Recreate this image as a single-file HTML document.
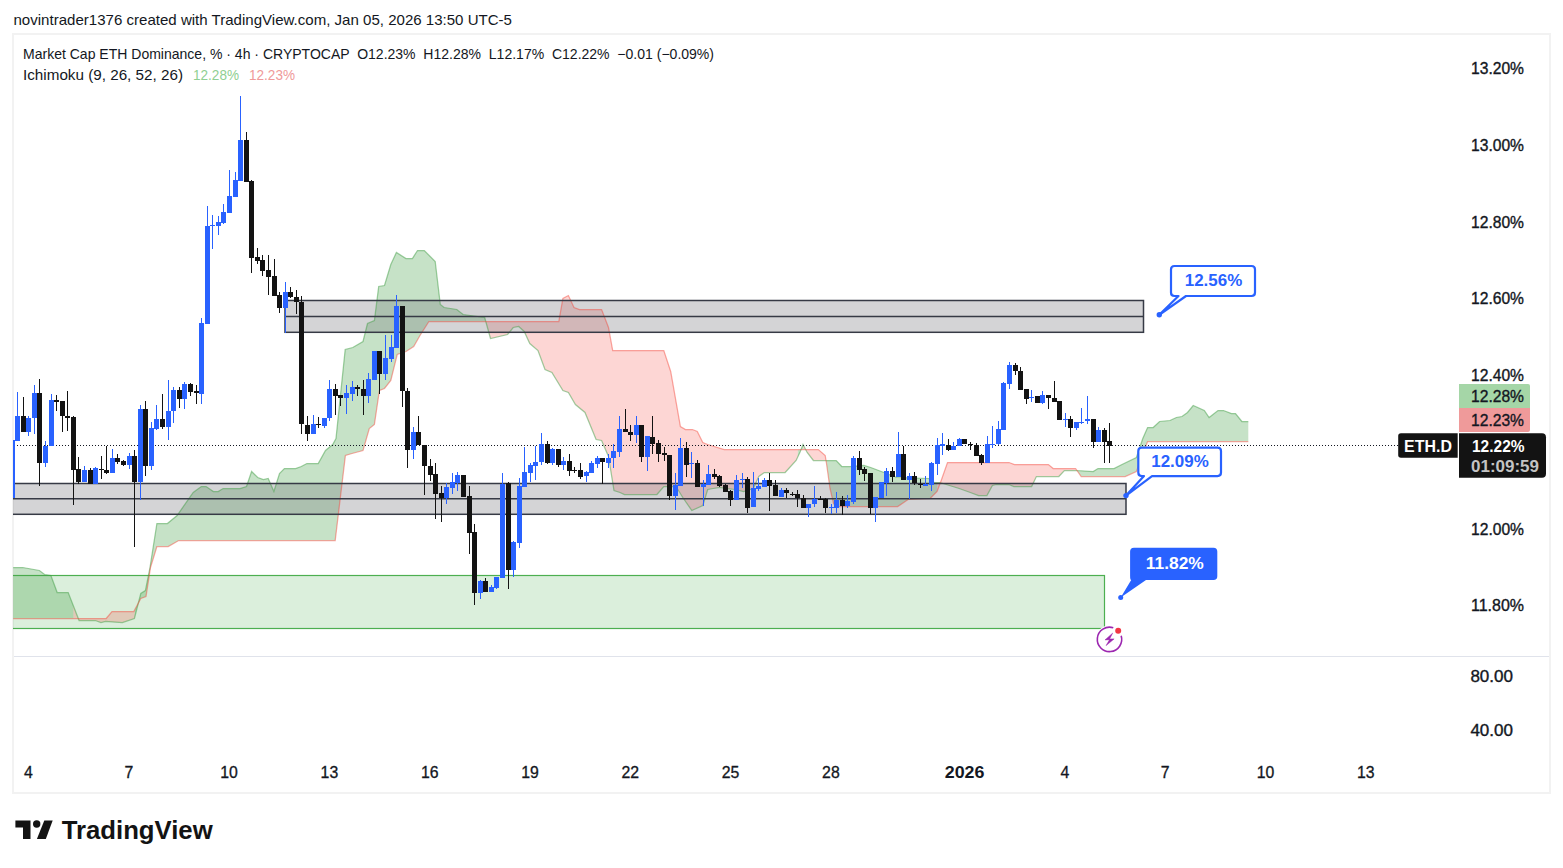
<!DOCTYPE html><html><head><meta charset="utf-8"><style>
html,body{margin:0;padding:0;background:#fff;width:1563px;height:868px;overflow:hidden}
svg{position:absolute;left:0;top:0;display:block}
text{font-family:'Liberation Sans', Arial, sans-serif}
</style></head><body>
<svg width="1563" height="868" viewBox="0 0 1563 868">
<defs><clipPath id="pane"><rect x="13" y="35" width="1535" height="621"/></clipPath></defs>
<rect x="0" y="0" width="1563" height="868" fill="#fff"/>
<text x="13.5" y="25" font-size="15" fill="#131722" textLength="498.5" lengthAdjust="spacingAndGlyphs">novintrader1376 created with TradingView.com, Jan 05, 2026 13:50 UTC-5</text>
<rect x="13" y="34" width="1537" height="759" fill="none" stroke="#f2f2f2" stroke-width="2"/>
<line x1="14" y1="656.5" x2="1549" y2="656.5" stroke="#e0e3eb" stroke-width="1"/>
<g clip-path="url(#pane)">
<!-- green zone rect -->
<rect x="5" y="575.5" width="1099.5" height="53" fill="rgba(76,175,80,0.2)" stroke="#4caf50" stroke-width="1.2"/>
<!-- cloud -->
<g fill="rgba(67,160,71,0.3)"><path d="M13.20,567.50 L22.70,567.50 L39.40,570.50 L44.60,574.50 L50.90,575.50 L57.20,592.50 L68.20,592.50 L73.42,605.91 L73.42,618.50 L68.20,618.50 L57.20,618.50 L50.90,618.50 L44.60,618.50 L39.40,618.50 L22.70,618.50 L13.20,618.50Z"/><path d="M134.71,617.28 L140.80,593.50 L145.40,590.50 L146.00,587.50 L150.00,567.50 L150.50,564.31 L156.90,523.50 L167.40,523.50 L168.20,522.84 L177.10,515.50 L178.70,513.21 L193.20,492.50 L201.30,486.50 L206.10,486.50 L213.40,491.50 L218.20,491.50 L223.10,488.50 L240.00,488.50 L246.50,486.50 L251.60,471.50 L257.70,477.50 L263.40,479.50 L268.20,478.50 L273.90,491.50 L279.50,473.50 L284.40,468.50 L295.60,468.50 L301.30,466.50 L306.90,463.50 L318.20,463.50 L325.50,450.50 L332.70,444.50 L335.20,439.95 L336.00,438.50 L345.20,349.50 L345.40,349.45 L352.00,347.71 L352.80,347.50 L363.00,341.50 L367.50,323.50 L369.30,322.72 L374.40,320.50 L378.70,286.50 L379.40,286.38 L384.50,285.50 L390.80,264.50 L396.40,252.50 L397.20,253.00 L406.00,258.50 L412.40,258.50 L413.70,256.46 L417.50,250.50 L420.00,250.50 L424.30,250.50 L428.90,255.14 L435.20,261.50 L440.30,304.50 L444.10,307.50 L456.80,309.50 L463.10,314.50 L484.70,317.50 L485.50,320.50 L485.75,321.39 L485.75,321.50 L485.50,321.50 L484.70,321.50 L463.10,321.50 L456.80,321.50 L444.10,321.50 L440.30,321.50 L435.20,321.50 L428.90,321.50 L424.30,328.74 L420.00,335.50 L417.50,339.87 L413.70,346.50 L412.40,347.34 L406.00,351.50 L397.20,354.50 L396.40,357.75 L390.80,380.50 L384.50,388.50 L379.40,390.50 L378.70,395.26 L374.40,424.50 L369.30,428.50 L367.50,434.79 L363.00,450.50 L352.80,453.28 L352.00,453.50 L345.40,455.50 L345.20,457.17 L336.00,533.83 L335.20,540.50 L332.70,540.50 L325.50,540.50 L318.20,540.50 L306.90,540.50 L301.30,540.50 L295.60,540.50 L284.40,540.50 L279.50,540.50 L273.90,540.50 L268.20,540.50 L263.40,540.50 L257.70,540.50 L251.60,540.50 L246.50,540.50 L240.00,540.50 L223.10,540.50 L218.20,540.50 L213.40,540.50 L206.10,540.50 L201.30,540.50 L193.20,540.50 L178.70,540.50 L177.10,541.41 L168.20,546.50 L167.40,546.50 L156.90,546.50 L150.50,567.50 L150.00,570.72 L146.00,596.50 L145.40,596.73 L140.80,598.50 L134.71,609.81Z"/><path d="M797.78,456.90 L800.30,451.50 L803.00,444.50 L803.35,445.17 L803.35,449.50 L803.00,449.50 L800.30,449.50 L797.78,449.50Z"/><path d="M825.64,460.50 L826.50,460.50 L830.00,460.50 L833.50,460.50 L836.20,460.50 L841.80,466.50 L850.00,466.50 L863.80,465.50 L870.70,467.50 L883.90,472.50 L891.50,475.50 L897.00,477.50 L897.70,477.52 L908.10,477.85 L928.80,478.50 L930.20,479.52 L934.30,482.50 L937.08,482.50 L937.08,491.52 L934.30,494.34 L930.20,498.50 L928.80,498.56 L908.10,499.50 L897.70,506.50 L897.00,506.50 L891.50,506.50 L883.90,506.50 L870.70,506.50 L863.80,506.50 L850.00,506.50 L841.80,506.50 L836.20,506.50 L833.50,503.50 L830.00,488.50 L826.50,463.50 L825.64,458.21Z"/><path d="M1076.38,470.50 L1076.40,470.50 L1081.20,470.79 L1093.20,471.50 L1098.00,468.50 L1114.00,468.50 L1122.00,464.50 L1125.20,462.94 L1136.40,457.50 L1142.80,438.50 L1147.60,427.50 L1153.20,427.50 L1159.60,421.50 L1170.00,420.50 L1176.40,417.50 L1182.00,416.50 L1187.50,412.50 L1193.20,405.50 L1204.30,410.50 L1209.10,417.50 L1218.00,410.50 L1223.50,410.50 L1231.50,413.50 L1235.50,413.50 L1241.90,421.50 L1248.30,421.50 L1248.30,441.50 L1241.90,441.50 L1235.50,441.50 L1231.50,441.50 L1223.50,441.50 L1218.00,441.50 L1209.10,441.50 L1204.30,441.50 L1193.20,441.50 L1187.50,441.50 L1182.00,441.50 L1176.40,441.50 L1170.00,441.50 L1159.60,441.50 L1153.20,441.50 L1147.60,441.50 L1142.80,454.36 L1136.40,471.50 L1125.20,476.50 L1122.00,476.50 L1114.00,476.50 L1098.00,476.50 L1093.20,476.50 L1081.20,476.50 L1076.40,469.64 L1076.38,469.61Z"/></g>
<g fill="rgba(244,67,60,0.22)"><path d="M73.42,605.91 L79.10,620.50 L95.30,620.50 L101.00,622.50 L105.60,621.50 L106.20,621.54 L112.00,621.88 L122.30,622.50 L133.80,618.70 L134.40,618.50 L134.71,617.28 L134.71,609.81 L134.40,610.39 L133.80,611.50 L122.30,611.50 L112.00,611.50 L106.20,618.50 L105.60,618.50 L101.00,618.50 L95.30,618.50 L79.10,618.50 L73.42,618.50Z"/><path d="M485.75,321.39 L490.50,338.50 L507.60,334.50 L513.20,327.50 L518.70,326.50 L524.20,331.50 L529.80,343.50 L538.00,350.50 L545.00,369.50 L551.90,372.50 L558.80,383.79 L562.90,390.50 L568.40,392.50 L574.00,402.10 L575.40,404.50 L579.50,407.92 L585.00,412.50 L596.10,439.50 L601.60,440.50 L608.50,456.50 L612.70,482.46 L614.00,490.50 L620.00,492.50 L624.50,494.50 L656.90,494.50 L663.80,486.50 L670.70,486.50 L676.00,486.50 L680.40,493.62 L682.80,497.50 L685.50,501.40 L691.80,510.50 L692.40,510.23 L697.30,508.00 L702.80,505.50 L707.70,489.50 L713.20,488.50 L720.10,487.50 L724.20,488.25 L725.60,488.50 L735.30,489.50 L743.60,491.50 L753.30,488.50 L758.80,476.50 L764.30,472.50 L785.10,472.50 L796.10,460.50 L797.78,456.90 L797.78,449.50 L796.10,449.50 L785.10,449.50 L764.30,449.50 L758.80,449.50 L753.30,449.50 L743.60,449.50 L735.30,449.50 L725.60,449.50 L724.20,449.50 L720.10,448.26 L713.20,446.17 L707.70,444.50 L702.80,442.50 L697.30,431.50 L692.40,429.50 L691.80,429.50 L685.50,429.50 L682.80,427.91 L680.40,426.50 L676.00,401.55 L670.70,371.50 L663.80,350.50 L656.90,350.50 L624.50,350.50 L620.00,350.50 L614.00,350.50 L612.70,350.50 L608.50,327.50 L601.60,309.50 L596.10,309.50 L585.00,309.50 L579.50,309.50 L575.40,308.01 L574.00,307.50 L568.40,295.50 L562.90,298.50 L558.80,321.50 L551.90,321.50 L545.00,321.50 L538.00,321.50 L529.80,321.50 L524.20,321.50 L518.70,321.50 L513.20,321.50 L507.60,321.50 L490.50,321.50 L485.75,321.50Z"/><path d="M803.35,445.17 L807.20,452.50 L813.40,460.50 L818.30,460.50 L825.20,460.50 L825.64,460.50 L825.64,458.21 L825.20,455.50 L818.30,449.50 L813.40,449.50 L807.20,449.50 L803.35,449.50Z"/><path d="M937.08,482.50 L937.10,482.50 L939.90,482.50 L941.20,482.91 L947.50,484.88 L949.50,485.50 L959.20,488.50 L970.30,492.50 L978.60,495.50 L986.90,495.50 L992.40,485.50 L996.50,484.50 L1009.00,484.50 L1013.80,486.50 L1014.50,486.50 L1031.60,486.50 L1036.40,476.50 L1048.40,476.50 L1053.20,476.50 L1058.80,476.50 L1064.40,470.50 L1075.60,470.50 L1076.38,470.50 L1076.38,469.61 L1075.60,468.50 L1064.40,468.50 L1058.80,468.50 L1053.20,468.50 L1048.40,464.50 L1036.40,464.50 L1031.60,464.50 L1014.50,464.50 L1013.80,464.25 L1009.00,462.50 L996.50,462.50 L992.40,462.50 L986.90,462.50 L978.60,462.50 L970.30,462.50 L959.20,462.50 L949.50,462.50 L947.50,462.50 L941.20,480.50 L939.90,483.99 L937.10,491.50 L937.08,491.52Z"/></g>
<!-- boxes -->
<g fill="rgba(112,112,118,0.3)">
<rect x="285" y="300.5" width="858.5" height="31.8"/>
<rect x="12" y="483.5" width="1114" height="30.8"/>
</g>
<polyline points="13.20,567.50 22.70,567.50 39.40,570.50 44.60,574.50 50.90,575.50 57.20,592.50 68.20,592.50 79.10,620.50 95.30,620.50 101.00,622.50 105.60,621.50 122.30,622.50 134.40,618.50 140.80,593.50 145.40,590.50 150.00,567.50 156.90,523.50 167.40,523.50 177.10,515.50 193.20,492.50 201.30,486.50 206.10,486.50 213.40,491.50 218.20,491.50 223.10,488.50 240.00,488.50 246.50,486.50 251.60,471.50 257.70,477.50 263.40,479.50 268.20,478.50 273.90,491.50 279.50,473.50 284.40,468.50 295.60,468.50 301.30,466.50 306.90,463.50 318.20,463.50 325.50,450.50 332.70,444.50 336.00,438.50 345.20,349.50 352.80,347.50 363.00,341.50 367.50,323.50 374.40,320.50 378.70,286.50 384.50,285.50 390.80,264.50 396.40,252.50 406.00,258.50 412.40,258.50 417.50,250.50 424.30,250.50 435.20,261.50 440.30,304.50 444.10,307.50 456.80,309.50 463.10,314.50 484.70,317.50 485.50,320.50 490.50,338.50 507.60,334.50 513.20,327.50 518.70,326.50 524.20,331.50 529.80,343.50 538.00,350.50 545.00,369.50 551.90,372.50 562.90,390.50 568.40,392.50 575.40,404.50 585.00,412.50 596.10,439.50 601.60,440.50 608.50,456.50 614.00,490.50 620.00,492.50 624.50,494.50 656.90,494.50 663.80,486.50 676.00,486.50 682.80,497.50 691.80,510.50 702.80,505.50 707.70,489.50 713.20,488.50 720.10,487.50 725.60,488.50 735.30,489.50 743.60,491.50 753.30,488.50 758.80,476.50 764.30,472.50 785.10,472.50 796.10,460.50 800.30,451.50 803.00,444.50 807.20,452.50 813.40,460.50 836.20,460.50 841.80,466.50 850.00,466.50 863.80,465.50 870.70,467.50 883.90,472.50 891.50,475.50 897.00,477.50 928.80,478.50 934.30,482.50 939.90,482.50 949.50,485.50 959.20,488.50 970.30,492.50 978.60,495.50 986.90,495.50 992.40,485.50 996.50,484.50 1009.00,484.50 1013.80,486.50 1031.60,486.50 1036.40,476.50 1058.80,476.50 1064.40,470.50 1076.40,470.50 1093.20,471.50 1098.00,468.50 1114.00,468.50 1122.00,464.50 1136.40,457.50 1142.80,438.50 1147.60,427.50 1153.20,427.50 1159.60,421.50 1170.00,420.50 1176.40,417.50 1182.00,416.50 1187.50,412.50 1193.20,405.50 1204.30,410.50 1209.10,417.50 1218.00,410.50 1223.50,410.50 1231.50,413.50 1235.50,413.50 1241.90,421.50 1248.30,421.50" fill="none" stroke="rgba(67,160,71,0.5)" stroke-width="1.25"/>
<polyline points="13.20,618.50 106.20,618.50 112.00,611.50 133.80,611.50 140.80,598.50 146.00,596.50 150.50,567.50 156.90,546.50 168.20,546.50 178.70,540.50 335.20,540.50 345.40,455.50 352.00,453.50 363.00,450.50 369.30,428.50 374.40,424.50 379.40,390.50 384.50,388.50 390.80,380.50 397.20,354.50 406.00,351.50 413.70,346.50 420.00,335.50 428.90,321.50 558.80,321.50 562.90,298.50 568.40,295.50 574.00,307.50 579.50,309.50 601.60,309.50 608.50,327.50 612.70,350.50 663.80,350.50 670.70,371.50 680.40,426.50 685.50,429.50 692.40,429.50 697.30,431.50 702.80,442.50 707.70,444.50 724.20,449.50 818.30,449.50 825.20,455.50 826.50,463.50 830.00,488.50 833.50,503.50 836.20,506.50 897.70,506.50 908.10,499.50 930.20,498.50 937.10,491.50 941.20,480.50 947.50,462.50 1009.00,462.50 1014.50,464.50 1048.40,464.50 1053.20,468.50 1075.60,468.50 1081.20,476.50 1125.20,476.50 1136.40,471.50 1147.60,441.50 1248.30,441.50" fill="none" stroke="rgba(244,67,54,0.45)" stroke-width="1.25"/>
<g fill="none" stroke="#363a45" stroke-width="1.5">
<rect x="285" y="300.5" width="858.5" height="31.8"/>
<rect x="12" y="483.5" width="1114" height="30.8"/>
<line x1="285" y1="316.4" x2="1143.5" y2="316.4"/>
<line x1="12" y1="498.7" x2="1126" y2="498.7"/>
</g>
<!-- current price line -->
<line x1="14" y1="445.5" x2="1398" y2="445.5" stroke="#131722" stroke-width="1" stroke-dasharray="1 2"/>
<g fill="#2962ff"><rect x="12" y="440" width="1" height="58"/><rect x="10" y="440" width="5" height="58"/><rect x="17" y="392" width="1" height="49"/><rect x="15" y="416" width="5" height="25"/><rect x="28" y="416" width="1" height="20"/><rect x="26" y="418" width="5" height="14"/><rect x="34" y="385" width="1" height="49"/><rect x="32" y="393" width="5" height="25"/><rect x="45" y="441" width="1" height="26"/><rect x="43" y="446" width="5" height="17"/><rect x="51" y="394" width="1" height="52"/><rect x="49" y="400" width="5" height="46"/><rect x="84" y="466" width="1" height="16"/><rect x="82" y="470" width="5" height="12"/><rect x="95" y="467" width="1" height="17"/><rect x="93" y="468" width="5" height="16"/><rect x="112" y="449" width="1" height="24"/><rect x="110" y="458" width="5" height="15"/><rect x="129" y="453" width="1" height="16"/><rect x="127" y="456" width="5" height="9"/><rect x="140" y="405" width="1" height="95"/><rect x="138" y="409" width="5" height="73"/><rect x="151" y="422" width="1" height="48"/><rect x="149" y="428" width="5" height="38"/><rect x="156" y="405" width="1" height="25"/><rect x="154" y="419" width="5" height="10"/><rect x="168" y="380" width="1" height="60"/><rect x="166" y="411" width="5" height="16"/><rect x="173" y="387" width="1" height="36"/><rect x="171" y="390" width="5" height="21"/><rect x="184" y="382" width="1" height="27"/><rect x="182" y="384" width="5" height="15"/><rect x="201" y="318" width="1" height="86"/><rect x="199" y="323" width="5" height="71"/><rect x="207" y="206" width="1" height="118"/><rect x="205" y="226" width="5" height="98"/><rect x="212" y="215" width="1" height="34"/><rect x="210" y="225" width="5" height="1"/><rect x="218" y="216" width="1" height="19"/><rect x="216" y="222" width="5" height="4"/><rect x="223" y="204" width="1" height="20"/><rect x="221" y="212" width="5" height="11"/><rect x="229" y="170" width="1" height="43"/><rect x="227" y="196" width="5" height="17"/><rect x="235" y="172" width="1" height="25"/><rect x="233" y="180" width="5" height="17"/><rect x="240" y="96" width="1" height="85"/><rect x="238" y="140" width="5" height="41"/><rect x="285" y="282" width="1" height="51"/><rect x="283" y="292" width="5" height="16"/><rect x="313" y="415" width="1" height="19"/><rect x="311" y="424" width="5" height="10"/><rect x="324" y="418" width="1" height="10"/><rect x="322" y="418" width="5" height="8"/><rect x="329" y="380" width="1" height="41"/><rect x="327" y="389" width="5" height="29"/><rect x="346" y="385" width="1" height="29"/><rect x="344" y="393" width="5" height="5"/><rect x="352" y="381" width="1" height="20"/><rect x="350" y="387" width="5" height="7"/><rect x="368" y="373" width="1" height="30"/><rect x="366" y="379" width="5" height="17"/><rect x="374" y="351" width="1" height="29"/><rect x="372" y="351" width="5" height="29"/><rect x="385" y="335" width="1" height="45"/><rect x="383" y="358" width="5" height="16"/><rect x="391" y="335" width="1" height="27"/><rect x="389" y="347" width="5" height="12"/><rect x="396" y="295" width="1" height="53"/><rect x="394" y="306" width="5" height="42"/><rect x="413" y="427" width="1" height="32"/><rect x="411" y="432" width="5" height="18"/><rect x="446" y="483" width="1" height="21"/><rect x="444" y="487" width="5" height="11"/><rect x="452" y="473" width="1" height="21"/><rect x="450" y="482" width="5" height="6"/><rect x="457" y="472" width="1" height="19"/><rect x="455" y="475" width="5" height="8"/><rect x="480" y="580" width="1" height="19"/><rect x="478" y="581" width="5" height="12"/><rect x="491" y="585" width="1" height="7"/><rect x="489" y="587" width="5" height="5"/><rect x="496" y="577" width="1" height="12"/><rect x="494" y="577" width="5" height="11"/><rect x="502" y="473" width="1" height="105"/><rect x="500" y="484" width="5" height="94"/><rect x="513" y="541" width="1" height="36"/><rect x="511" y="542" width="5" height="28"/><rect x="519" y="478" width="1" height="70"/><rect x="517" y="486" width="5" height="57"/><rect x="524" y="447" width="1" height="40"/><rect x="522" y="472" width="5" height="15"/><rect x="530" y="463" width="1" height="19"/><rect x="528" y="465" width="5" height="8"/><rect x="535" y="446" width="1" height="34"/><rect x="533" y="462" width="5" height="4"/><rect x="541" y="433" width="1" height="32"/><rect x="539" y="444" width="5" height="18"/><rect x="552" y="448" width="1" height="17"/><rect x="550" y="449" width="5" height="14"/><rect x="563" y="457" width="1" height="13"/><rect x="561" y="461" width="5" height="4"/><rect x="586" y="471" width="1" height="11"/><rect x="584" y="472" width="5" height="4"/><rect x="591" y="461" width="1" height="12"/><rect x="589" y="463" width="5" height="10"/><rect x="597" y="456" width="1" height="12"/><rect x="595" y="458" width="5" height="6"/><rect x="608" y="454" width="1" height="14"/><rect x="606" y="458" width="5" height="5"/><rect x="613" y="444" width="1" height="24"/><rect x="611" y="451" width="5" height="7"/><rect x="619" y="416" width="1" height="41"/><rect x="617" y="429" width="5" height="23"/><rect x="636" y="416" width="1" height="27"/><rect x="634" y="425" width="5" height="10"/><rect x="647" y="436" width="1" height="35"/><rect x="645" y="436" width="5" height="21"/><rect x="675" y="473" width="1" height="37"/><rect x="673" y="485" width="5" height="11"/><rect x="680" y="438" width="1" height="48"/><rect x="678" y="448" width="5" height="38"/><rect x="691" y="452" width="1" height="26"/><rect x="689" y="463" width="5" height="1"/><rect x="703" y="480" width="1" height="26"/><rect x="701" y="484" width="5" height="3"/><rect x="708" y="465" width="1" height="20"/><rect x="706" y="474" width="5" height="11"/><rect x="736" y="475" width="1" height="25"/><rect x="734" y="480" width="5" height="20"/><rect x="742" y="473" width="1" height="15"/><rect x="740" y="479" width="5" height="1"/><rect x="753" y="472" width="1" height="35"/><rect x="751" y="488" width="5" height="19"/><rect x="758" y="478" width="1" height="13"/><rect x="756" y="486" width="5" height="3"/><rect x="764" y="478" width="1" height="9"/><rect x="762" y="480" width="5" height="7"/><rect x="781" y="488" width="1" height="9"/><rect x="779" y="490" width="5" height="7"/><rect x="808" y="504" width="1" height="13"/><rect x="806" y="504" width="5" height="4"/><rect x="814" y="486" width="1" height="21"/><rect x="812" y="499" width="5" height="5"/><rect x="831" y="504" width="1" height="10"/><rect x="829" y="507" width="5" height="1"/><rect x="836" y="492" width="1" height="21"/><rect x="834" y="500" width="5" height="8"/><rect x="847" y="495" width="1" height="13"/><rect x="845" y="501" width="5" height="5"/><rect x="853" y="456" width="1" height="48"/><rect x="851" y="458" width="5" height="44"/><rect x="875" y="497" width="1" height="25"/><rect x="873" y="497" width="5" height="11"/><rect x="881" y="482" width="1" height="16"/><rect x="879" y="482" width="5" height="16"/><rect x="886" y="468" width="1" height="28"/><rect x="884" y="471" width="5" height="12"/><rect x="898" y="432" width="1" height="45"/><rect x="896" y="454" width="5" height="23"/><rect x="909" y="473" width="1" height="26"/><rect x="907" y="476" width="5" height="4"/><rect x="925" y="476" width="1" height="10"/><rect x="923" y="484" width="5" height="2"/><rect x="931" y="462" width="1" height="29"/><rect x="929" y="463" width="5" height="22"/><rect x="937" y="438" width="1" height="37"/><rect x="935" y="445" width="5" height="19"/><rect x="942" y="433" width="1" height="22"/><rect x="940" y="444" width="5" height="2"/><rect x="953" y="442" width="1" height="8"/><rect x="951" y="446" width="5" height="4"/><rect x="959" y="438" width="1" height="8"/><rect x="957" y="439" width="5" height="7"/><rect x="987" y="436" width="1" height="27"/><rect x="985" y="444" width="5" height="19"/><rect x="992" y="426" width="1" height="22"/><rect x="990" y="444" width="5" height="1"/><rect x="998" y="421" width="1" height="24"/><rect x="996" y="429" width="5" height="15"/><rect x="1003" y="382" width="1" height="48"/><rect x="1001" y="383" width="5" height="47"/><rect x="1009" y="362" width="1" height="27"/><rect x="1007" y="365" width="5" height="19"/><rect x="1031" y="390" width="1" height="12"/><rect x="1029" y="397" width="5" height="1"/><rect x="1042" y="391" width="1" height="13"/><rect x="1040" y="395" width="5" height="8"/><rect x="1065" y="413" width="1" height="14"/><rect x="1063" y="419" width="5" height="1"/><rect x="1076" y="422" width="1" height="8"/><rect x="1074" y="422" width="5" height="6"/><rect x="1081" y="408" width="1" height="16"/><rect x="1079" y="422" width="5" height="1"/><rect x="1087" y="396" width="1" height="28"/><rect x="1085" y="419" width="5" height="2"/><rect x="1098" y="427" width="1" height="15"/><rect x="1096" y="430" width="5" height="12"/></g><g fill="#131313"><rect x="23" y="397" width="1" height="35"/><rect x="21" y="416" width="5" height="16"/><rect x="39" y="379" width="1" height="107"/><rect x="37" y="393" width="5" height="70"/><rect x="56" y="395" width="1" height="16"/><rect x="54" y="400" width="5" height="2"/><rect x="62" y="401" width="1" height="31"/><rect x="60" y="401" width="5" height="15"/><rect x="67" y="391" width="1" height="40"/><rect x="65" y="416" width="5" height="2"/><rect x="73" y="416" width="1" height="89"/><rect x="71" y="417" width="5" height="53"/><rect x="78" y="457" width="1" height="27"/><rect x="76" y="469" width="5" height="13"/><rect x="90" y="468" width="1" height="16"/><rect x="88" y="470" width="5" height="14"/><rect x="101" y="456" width="1" height="23"/><rect x="99" y="469" width="5" height="1"/><rect x="106" y="446" width="1" height="28"/><rect x="104" y="470" width="5" height="3"/><rect x="117" y="454" width="1" height="10"/><rect x="115" y="458" width="5" height="4"/><rect x="123" y="460" width="1" height="6"/><rect x="121" y="461" width="5" height="4"/><rect x="134" y="450" width="1" height="97"/><rect x="132" y="456" width="5" height="26"/><rect x="145" y="401" width="1" height="75"/><rect x="143" y="409" width="5" height="57"/><rect x="162" y="394" width="1" height="35"/><rect x="160" y="419" width="5" height="8"/><rect x="179" y="387" width="1" height="21"/><rect x="177" y="390" width="5" height="9"/><rect x="190" y="383" width="1" height="13"/><rect x="188" y="384" width="5" height="8"/><rect x="196" y="385" width="1" height="19"/><rect x="194" y="391" width="5" height="2"/><rect x="246" y="132" width="1" height="50"/><rect x="244" y="140" width="5" height="42"/><rect x="251" y="180" width="1" height="93"/><rect x="249" y="181" width="5" height="77"/><rect x="257" y="248" width="1" height="16"/><rect x="255" y="257" width="5" height="4"/><rect x="262" y="255" width="1" height="21"/><rect x="260" y="260" width="5" height="11"/><rect x="268" y="255" width="1" height="40"/><rect x="266" y="270" width="5" height="7"/><rect x="274" y="259" width="1" height="37"/><rect x="272" y="276" width="5" height="20"/><rect x="279" y="292" width="1" height="21"/><rect x="277" y="295" width="5" height="13"/><rect x="290" y="287" width="1" height="11"/><rect x="288" y="292" width="5" height="5"/><rect x="296" y="290" width="1" height="24"/><rect x="294" y="297" width="5" height="5"/><rect x="301" y="296" width="1" height="138"/><rect x="299" y="302" width="5" height="122"/><rect x="307" y="416" width="1" height="25"/><rect x="305" y="425" width="5" height="9"/><rect x="318" y="417" width="1" height="11"/><rect x="316" y="424" width="5" height="1"/><rect x="335" y="384" width="1" height="31"/><rect x="333" y="389" width="5" height="7"/><rect x="340" y="395" width="1" height="11"/><rect x="338" y="395" width="5" height="3"/><rect x="357" y="385" width="1" height="11"/><rect x="355" y="387" width="5" height="2"/><rect x="363" y="380" width="1" height="35"/><rect x="361" y="389" width="5" height="7"/><rect x="379" y="351" width="1" height="43"/><rect x="377" y="351" width="5" height="23"/><rect x="402" y="306" width="1" height="101"/><rect x="400" y="306" width="5" height="85"/><rect x="407" y="388" width="1" height="80"/><rect x="405" y="391" width="5" height="59"/><rect x="418" y="416" width="1" height="29"/><rect x="416" y="432" width="5" height="13"/><rect x="424" y="445" width="1" height="50"/><rect x="422" y="445" width="5" height="21"/><rect x="430" y="459" width="1" height="22"/><rect x="428" y="466" width="5" height="9"/><rect x="435" y="463" width="1" height="56"/><rect x="433" y="474" width="5" height="20"/><rect x="441" y="486" width="1" height="36"/><rect x="439" y="493" width="5" height="5"/><rect x="463" y="475" width="1" height="22"/><rect x="461" y="475" width="5" height="22"/><rect x="469" y="486" width="1" height="68"/><rect x="467" y="496" width="5" height="37"/><rect x="474" y="524" width="1" height="81"/><rect x="472" y="532" width="5" height="61"/><rect x="485" y="578" width="1" height="14"/><rect x="483" y="581" width="5" height="11"/><rect x="508" y="482" width="1" height="107"/><rect x="506" y="483" width="5" height="87"/><rect x="547" y="441" width="1" height="23"/><rect x="545" y="444" width="5" height="19"/><rect x="558" y="449" width="1" height="18"/><rect x="556" y="449" width="5" height="16"/><rect x="569" y="454" width="1" height="22"/><rect x="567" y="461" width="5" height="10"/><rect x="574" y="467" width="1" height="6"/><rect x="572" y="470" width="5" height="1"/><rect x="580" y="463" width="1" height="16"/><rect x="578" y="470" width="5" height="7"/><rect x="602" y="458" width="1" height="26"/><rect x="600" y="458" width="5" height="4"/><rect x="625" y="409" width="1" height="23"/><rect x="623" y="429" width="5" height="3"/><rect x="630" y="425" width="1" height="16"/><rect x="628" y="432" width="5" height="3"/><rect x="641" y="425" width="1" height="37"/><rect x="639" y="425" width="5" height="32"/><rect x="652" y="416" width="1" height="38"/><rect x="650" y="437" width="5" height="7"/><rect x="658" y="440" width="1" height="22"/><rect x="656" y="443" width="5" height="11"/><rect x="664" y="447" width="1" height="14"/><rect x="662" y="453" width="5" height="2"/><rect x="669" y="455" width="1" height="45"/><rect x="667" y="455" width="5" height="41"/><rect x="686" y="442" width="1" height="35"/><rect x="684" y="448" width="5" height="17"/><rect x="697" y="460" width="1" height="27"/><rect x="695" y="463" width="5" height="24"/><rect x="714" y="469" width="1" height="10"/><rect x="712" y="474" width="5" height="3"/><rect x="719" y="475" width="1" height="12"/><rect x="717" y="476" width="5" height="10"/><rect x="725" y="484" width="1" height="8"/><rect x="723" y="485" width="5" height="7"/><rect x="730" y="490" width="1" height="16"/><rect x="728" y="491" width="5" height="9"/><rect x="747" y="477" width="1" height="36"/><rect x="745" y="479" width="5" height="29"/><rect x="769" y="473" width="1" height="38"/><rect x="767" y="480" width="5" height="6"/><rect x="775" y="480" width="1" height="16"/><rect x="773" y="485" width="5" height="11"/><rect x="786" y="488" width="1" height="10"/><rect x="784" y="490" width="5" height="3"/><rect x="792" y="492" width="1" height="4"/><rect x="790" y="494" width="5" height="1"/><rect x="797" y="490" width="1" height="17"/><rect x="795" y="494" width="5" height="4"/><rect x="803" y="495" width="1" height="13"/><rect x="801" y="498" width="5" height="10"/><rect x="820" y="496" width="1" height="4"/><rect x="818" y="499" width="5" height="1"/><rect x="825" y="498" width="1" height="15"/><rect x="823" y="499" width="5" height="9"/><rect x="842" y="496" width="1" height="19"/><rect x="840" y="500" width="5" height="6"/><rect x="859" y="451" width="1" height="24"/><rect x="857" y="458" width="5" height="12"/><rect x="864" y="467" width="1" height="14"/><rect x="862" y="469" width="5" height="5"/><rect x="870" y="473" width="1" height="41"/><rect x="868" y="473" width="5" height="35"/><rect x="892" y="467" width="1" height="15"/><rect x="890" y="471" width="5" height="6"/><rect x="903" y="446" width="1" height="34"/><rect x="901" y="454" width="5" height="26"/><rect x="914" y="472" width="1" height="13"/><rect x="912" y="476" width="5" height="7"/><rect x="920" y="479" width="1" height="9"/><rect x="918" y="484" width="5" height="1"/><rect x="948" y="439" width="1" height="12"/><rect x="946" y="445" width="5" height="5"/><rect x="964" y="439" width="1" height="5"/><rect x="962" y="439" width="5" height="5"/><rect x="970" y="442" width="1" height="8"/><rect x="968" y="444" width="5" height="1"/><rect x="976" y="443" width="1" height="13"/><rect x="974" y="445" width="5" height="11"/><rect x="981" y="454" width="1" height="11"/><rect x="979" y="455" width="5" height="8"/><rect x="1015" y="363" width="1" height="12"/><rect x="1013" y="365" width="5" height="6"/><rect x="1020" y="367" width="1" height="23"/><rect x="1018" y="371" width="5" height="19"/><rect x="1026" y="389" width="1" height="15"/><rect x="1024" y="389" width="5" height="10"/><rect x="1037" y="396" width="1" height="7"/><rect x="1035" y="396" width="5" height="7"/><rect x="1048" y="395" width="1" height="14"/><rect x="1046" y="395" width="5" height="3"/><rect x="1054" y="381" width="1" height="21"/><rect x="1052" y="398" width="5" height="4"/><rect x="1059" y="401" width="1" height="19"/><rect x="1057" y="401" width="5" height="19"/><rect x="1070" y="416" width="1" height="21"/><rect x="1068" y="419" width="5" height="9"/><rect x="1093" y="419" width="1" height="29"/><rect x="1091" y="419" width="5" height="23"/><rect x="1104" y="428" width="1" height="35"/><rect x="1102" y="430" width="5" height="12"/><rect x="1109" y="423" width="1" height="40"/><rect x="1107" y="441" width="5" height="5"/></g>
</g>

<g>
<path d="M1174.5,266 H1251.5 Q1255,266 1255,269.5 V292.5 Q1255,296 1251.5,296 H1186 L1159.3,314.8 L1178.5,296 H1174.5 Q1171,296 1171,292.5 V269.5 Q1171,266 1174.5,266 Z" fill="#fff" stroke="#2962ff" stroke-width="2.2" stroke-linejoin="round"/>
<circle cx="1159.3" cy="314.8" r="2.7" fill="#2962ff"/>
<text x="1213.5" y="286.3" font-size="17" font-weight="bold" fill="#2962ff" text-anchor="middle" textLength="57.5" lengthAdjust="spacingAndGlyphs">12.56%</text>
<path d="M1141.8,447.6 H1217.5 Q1221,447.6 1221,451.1 V472.6 Q1221,476.1 1217.5,476.1 H1152 L1126,495.6 L1144,476.1 H1141.8 Q1138.3,476.1 1138.3,472.6 V451.1 Q1138.3,447.6 1141.8,447.6 Z" fill="#fff" stroke="#2962ff" stroke-width="2.2" stroke-linejoin="round"/>
<circle cx="1126" cy="495.6" r="2.7" fill="#2962ff"/>
<text x="1180" y="467.4" font-size="17" font-weight="bold" fill="#2962ff" text-anchor="middle" textLength="57.5" lengthAdjust="spacingAndGlyphs">12.09%</text>
<path d="M1134,547.7 H1213.5 Q1217.3,547.7 1217.3,551.5 V576.2 Q1217.3,580 1213.5,580 H1146 L1120.7,597.6 L1131.2,580 Q1130.1,580 1130.1,576 V551.5 Q1130.1,547.7 1134,547.7 Z" fill="#2962ff"/>
<circle cx="1120.7" cy="597.6" r="2.5" fill="#2962ff"/>
<text x="1174.8" y="569" font-size="17" font-weight="bold" fill="#fff" text-anchor="middle" textLength="58" lengthAdjust="spacingAndGlyphs">11.82%</text>
</g>

<g>
<circle cx="1109.5" cy="639.4" r="14" fill="#fff"/>
<path d="M1121.17,635.83 A12.2,12.2 0 1 1 1113.27,627.8" fill="none" stroke="#9c27b0" stroke-width="1.6"/>
<circle cx="1118.2" cy="630.8" r="3" fill="#f23645"/>
<path d="M1112.6,633.2 L1105,639.9 L1109.5,639.7 L1106.1,645.6 L1114.1,638.9 L1109.6,638.9 Z" fill="#9c27b0" stroke="#9c27b0" stroke-width="0.5" stroke-linejoin="round"/>
</g>

<text x="23" y="58.8" font-size="14.2" fill="#131722" xml:space="preserve" textLength="691" lengthAdjust="spacingAndGlyphs">Market Cap ETH Dominance, % · 4h · CRYPTOCAP  O12.23%  H12.28%  L12.17%  C12.22%  −0.01 (−0.09%)</text>
<text x="23" y="79.7" font-size="14.2" fill="#131722" textLength="160" lengthAdjust="spacingAndGlyphs">Ichimoku (9, 26, 52, 26)</text>
<text x="193" y="79.7" font-size="14.2" fill="#8fcf92" textLength="46" lengthAdjust="spacingAndGlyphs">12.28%</text>
<text x="249" y="79.7" font-size="14.2" fill="#ef9a9a" textLength="46" lengthAdjust="spacingAndGlyphs">12.23%</text>
<text x="1524" y="74.3" font-size="15.8" fill="#131722" stroke="#131722" stroke-width="0.35" text-anchor="end" textLength="53" lengthAdjust="spacingAndGlyphs">13.20%</text><text x="1524" y="151.0" font-size="15.8" fill="#131722" stroke="#131722" stroke-width="0.35" text-anchor="end" textLength="53" lengthAdjust="spacingAndGlyphs">13.00%</text><text x="1524" y="227.7" font-size="15.8" fill="#131722" stroke="#131722" stroke-width="0.35" text-anchor="end" textLength="53" lengthAdjust="spacingAndGlyphs">12.80%</text><text x="1524" y="304.4" font-size="15.8" fill="#131722" stroke="#131722" stroke-width="0.35" text-anchor="end" textLength="53" lengthAdjust="spacingAndGlyphs">12.60%</text><text x="1524" y="381.1" font-size="15.8" fill="#131722" stroke="#131722" stroke-width="0.35" text-anchor="end" textLength="53" lengthAdjust="spacingAndGlyphs">12.40%</text><text x="1524" y="534.5" font-size="15.8" fill="#131722" stroke="#131722" stroke-width="0.35" text-anchor="end" textLength="53" lengthAdjust="spacingAndGlyphs">12.00%</text><text x="1524" y="611.2" font-size="15.8" fill="#131722" stroke="#131722" stroke-width="0.35" text-anchor="end" textLength="53" lengthAdjust="spacingAndGlyphs">11.80%</text><text x="1513" y="682.4" font-size="15.8" fill="#131722" stroke="#131722" stroke-width="0.35" text-anchor="end" textLength="42.6" lengthAdjust="spacingAndGlyphs">80.00</text><text x="1513" y="736.0" font-size="15.8" fill="#131722" stroke="#131722" stroke-width="0.35" text-anchor="end" textLength="42.6" lengthAdjust="spacingAndGlyphs">40.00</text>
<path d="M1459,384 H1528 Q1530,384 1530,386 V408 H1459 Z" fill="#a5d6a7"/>
<path d="M1459,408 H1530 V430 Q1530,432 1528,432 H1459 Z" fill="#ef9a9a"/>
<text x="1524" y="401.8" font-size="15.8" fill="#131722" stroke="#131722" stroke-width="0.35" text-anchor="end" textLength="53" lengthAdjust="spacingAndGlyphs">12.28%</text>
<text x="1524" y="425.8" font-size="15.8" fill="#131722" stroke="#131722" stroke-width="0.35" text-anchor="end" textLength="53" lengthAdjust="spacingAndGlyphs">12.23%</text>
<path d="M1459,433.3 H1542 Q1546,433.3 1546,437.3 V473.7 Q1546,477.7 1542,477.7 H1459 Z" fill="#131313"/>
<text x="1524.5" y="452.1" font-size="15.6" font-weight="bold" fill="#fff" text-anchor="end" textLength="52.5" lengthAdjust="spacingAndGlyphs">12.22%</text>
<text x="1539" y="471.6" font-size="15.6" font-weight="bold" fill="#c3c3c3" text-anchor="end" textLength="68" lengthAdjust="spacingAndGlyphs">01:09:59</text>
<path d="M1401,433.3 H1457.7 V457.8 H1401 Q1398.2,457.8 1398.2,455 V436.1 Q1398.2,433.3 1401,433.3 Z" fill="#131313"/>
<text x="1428" y="452.1" font-size="15.6" font-weight="bold" fill="#fff" text-anchor="middle" textLength="47.8" lengthAdjust="spacingAndGlyphs">ETH.D</text>
<text x="28.5" y="778.4" font-size="15.8" stroke="#131722" stroke-width="0.3" fill="#131722" text-anchor="middle">4</text><text x="128.8" y="778.4" font-size="15.8" stroke="#131722" stroke-width="0.3" fill="#131722" text-anchor="middle">7</text><text x="229.1" y="778.4" font-size="15.8" stroke="#131722" stroke-width="0.3" fill="#131722" text-anchor="middle">10</text><text x="329.4" y="778.4" font-size="15.8" stroke="#131722" stroke-width="0.3" fill="#131722" text-anchor="middle">13</text><text x="429.7" y="778.4" font-size="15.8" stroke="#131722" stroke-width="0.3" fill="#131722" text-anchor="middle">16</text><text x="530" y="778.4" font-size="15.8" stroke="#131722" stroke-width="0.3" fill="#131722" text-anchor="middle">19</text><text x="630.3" y="778.4" font-size="15.8" stroke="#131722" stroke-width="0.3" fill="#131722" text-anchor="middle">22</text><text x="730.6" y="778.4" font-size="15.8" stroke="#131722" stroke-width="0.3" fill="#131722" text-anchor="middle">25</text><text x="830.9" y="778.4" font-size="15.8" stroke="#131722" stroke-width="0.3" fill="#131722" text-anchor="middle">28</text><text x="964.6" y="778.4" font-size="15.8" font-weight="bold" fill="#131722" text-anchor="middle" textLength="39.7" lengthAdjust="spacingAndGlyphs">2026</text><text x="1064.9" y="778.4" font-size="15.8" stroke="#131722" stroke-width="0.3" fill="#131722" text-anchor="middle">4</text><text x="1165.2" y="778.4" font-size="15.8" stroke="#131722" stroke-width="0.3" fill="#131722" text-anchor="middle">7</text><text x="1265.5" y="778.4" font-size="15.8" stroke="#131722" stroke-width="0.3" fill="#131722" text-anchor="middle">10</text><text x="1365.8" y="778.4" font-size="15.8" stroke="#131722" stroke-width="0.3" fill="#131722" text-anchor="middle">13</text>
<g fill="#131313">
<path d="M15.4,820.4 H30.5 V838.9 H23 V827.6 H15.4 Z"/>
<circle cx="36.7" cy="824" r="3.7"/>
<path d="M44.3,820.4 H52.7 L45.8,838.9 H36.9 Z"/>
<text x="61.7" y="838.9" font-size="25.5" font-weight="bold" textLength="151" lengthAdjust="spacingAndGlyphs">TradingView</text>
</g>
</svg></body></html>
